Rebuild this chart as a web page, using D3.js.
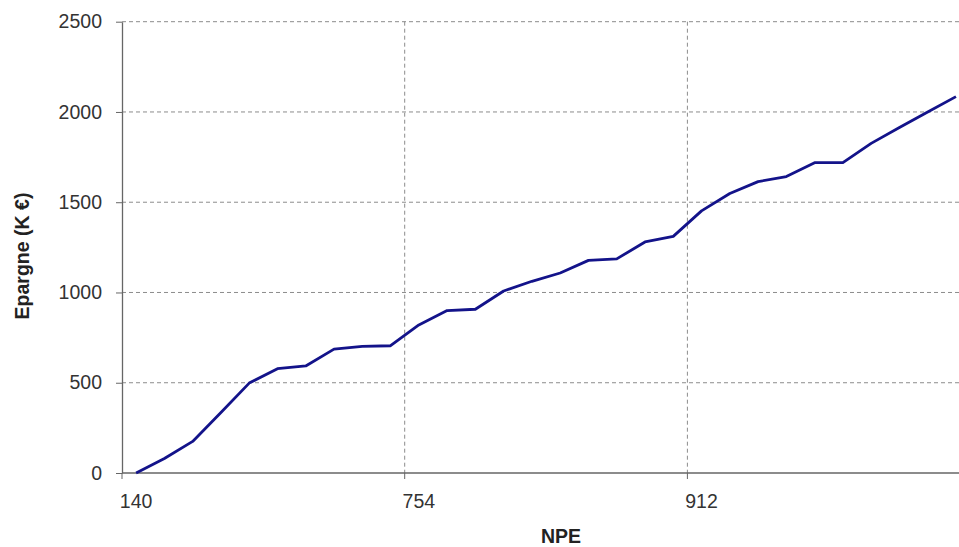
<!doctype html>
<html lang="fr">
<head>
<meta charset="utf-8">
<title>Epargne / NPE</title>
<style>
  body { margin: 0; background: #fff; }
  svg { display: block; font-family: "Liberation Sans", Arial, Helvetica, sans-serif; }
  .grid line { stroke: #8c8c8c; stroke-width: 1; stroke-dasharray: 4,3; }
  .tick-label { font-size: 19.5px; fill: #333; }
  .axis-title { font-size: 19.5px; font-weight: bold; fill: #222; }
</style>
<script src="https://d3js.org/d3.v7.min.js"></script>
</head>
<body>
<div id="chart"></div>
<script>
  // data (K €), one point per NPE category
  var savings = [0, 80, 175, 335, 498, 578, 593, 686, 702, 705,
                 820, 900, 907, 1008, 1062, 1108, 1178, 1186, 1280, 1311,
                 1452, 1548, 1614, 1642, 1719, 1719, 1826, 1914, 2000, 2085];
  // only every 10th category is labelled on the axis
  var labelIndex = [0, 10, 20];
  var xLabels = ["140", "754", "912"];
  var yTicks = [0, 500, 1000, 1500, 2000, 2500];

  var W = 959, H = 547;
  var margin = {top: 21.7, left: 122, bottom: 74};
  var band = 28.27;
  var plotRight = margin.left + band * savings.length;
  var plotBottom = H - margin.bottom;

  var svg = d3.select("#chart").append("svg")
    .attr("width", W)
    .attr("height", H);

  var x = d3.scaleBand()
    .domain(d3.range(savings.length))
    .range([margin.left, plotRight])
    .padding(0);

  var y = d3.scaleLinear()
    .domain([0, 2500])
    .range([plotBottom, margin.top]);

  // horizontal grid
  svg.append("g").attr("class", "grid")
    .selectAll("line")
    .data(yTicks.filter(function(d) { return d > 0; }))
    .enter().append("line")
    .attr("x1", margin.left).attr("x2", plotRight)
    .attr("y1", function(d) { return y(d); })
    .attr("y2", function(d) { return y(d); });

  // vertical grid at the category tick marks (between categories)
  svg.append("g").attr("class", "grid")
    .selectAll("line")
    .data(labelIndex.filter(function(d) { return d > 0; }))
    .enter().append("line")
    .attr("x1", function(d) { return x(d); })
    .attr("x2", function(d) { return x(d); })
    .attr("y1", margin.top).attr("y2", plotBottom);

  // y axis
  var yAxis = d3.axisLeft(y)
    .tickValues(yTicks)
    .tickFormat(d3.format("d"))
    .tickSize(6)
    .tickSizeOuter(0)
    .tickPadding(14);

  var gy = svg.append("g")
    .attr("transform", "translate(" + margin.left + ",0)")
    .call(yAxis);
  gy.select(".domain").attr("stroke", "#666").attr("stroke-width", 1.3);
  gy.selectAll(".tick line").attr("stroke", "#666");
  gy.selectAll(".tick text")
    .attr("class", "tick-label")
    .attr("font-size", null).attr("fill", null).attr("font-family", null);

  // x axis: ticks between categories, labels centred on category
  var gx = svg.append("g");
  gx.append("line")
    .attr("x1", margin.left).attr("x2", plotRight)
    .attr("y1", plotBottom).attr("y2", plotBottom)
    .attr("stroke", "#666").attr("stroke-width", 1.3);
  gx.selectAll(".xtick")
    .data(labelIndex)
    .enter().append("line")
    .attr("class", "xtick")
    .attr("x1", function(d) { return x(d); })
    .attr("x2", function(d) { return x(d); })
    .attr("y1", plotBottom).attr("y2", plotBottom + 6)
    .attr("stroke", "#666");
  gx.selectAll(".tick-label")
    .data(labelIndex)
    .enter().append("text")
    .attr("class", "tick-label")
    .attr("x", function(d) { return x(d) + x.bandwidth() / 2; })
    .attr("y", plotBottom + 35)
    .attr("text-anchor", "middle")
    .text(function(d, i) { return xLabels[i]; });

  // the series
  var line = d3.line()
    .x(function(d, i) { return x(i) + x.bandwidth() / 2; })
    .y(function(d) { return y(d); });

  svg.append("path")
    .datum(savings)
    .attr("fill", "none")
    .attr("stroke", "#13138a")
    .attr("stroke-width", 2.8)
    .attr("stroke-linejoin", "round")
    .attr("d", line);

  // axis titles
  svg.append("text")
    .attr("class", "axis-title")
    .attr("x", 561)
    .attr("y", plotBottom + 70)
    .attr("text-anchor", "middle")
    .text("NPE");

  svg.append("text")
    .attr("class", "axis-title")
    .attr("transform", "translate(29," + 256 + ") rotate(-90)")
    .attr("text-anchor", "middle")
    .text("Epargne (K €)");
</script>
</body>
</html>
